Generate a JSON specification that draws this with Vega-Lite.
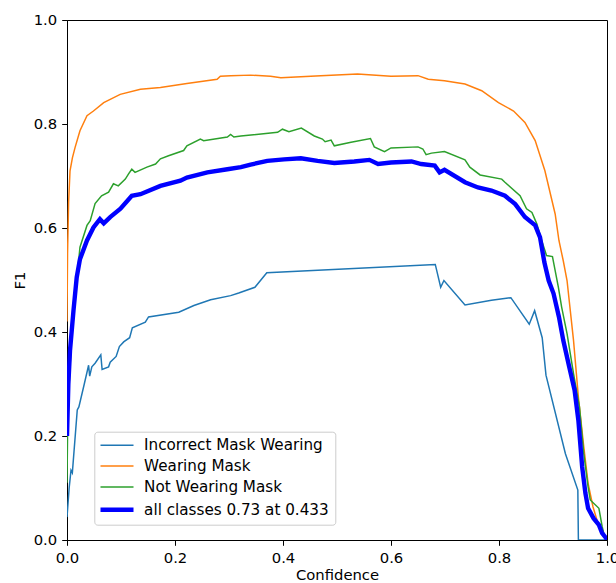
{
  "$schema": "https://vega.github.io/schema/vega-lite/v6.json",
  "width": 540,
  "height": 520,
  "autosize": {"type": "none"},
  "padding": {"left": 67, "top": 20, "right": 9, "bottom": 43},
  "background": "white",
  "config": {
    "font": "DejaVu Sans",
    "view": {"stroke": "black", "strokeWidth": 1},
    "axis": {"grid": false, "domainColor": "black", "tickColor": "black", "labelColor": "black", "titleColor": "black", "labelFontSize": 14.8, "titleFontSize": 14.8, "titleFontWeight": "normal", "tickSize": 5.3, "labelPadding": 5}
  },
  "datasets": {
    "pts": [
      {"s":"Incorrect Mask Wearing","c":0,"f":0.044},{"s":"Incorrect Mask Wearing","c":0.004,"f":0.10},{"s":"Incorrect Mask Wearing","c":0.0074,"f":0.134},{"s":"Incorrect Mask Wearing","c":0.0099,"f":0.129},{"s":"Incorrect Mask Wearing","c":0.019,"f":0.25},{"s":"Incorrect Mask Wearing","c":0.022,"f":0.256},{"s":"Incorrect Mask Wearing","c":0.032,"f":0.30},{"s":"Incorrect Mask Wearing","c":0.040,"f":0.336},{"s":"Incorrect Mask Wearing","c":0.042,"f":0.315},{"s":"Incorrect Mask Wearing","c":0.046,"f":0.333},{"s":"Incorrect Mask Wearing","c":0.052,"f":0.340},{"s":"Incorrect Mask Wearing","c":0.0626,"f":0.356},{"s":"Incorrect Mask Wearing","c":0.065,"f":0.328},{"s":"Incorrect Mask Wearing","c":0.077,"f":0.333},{"s":"Incorrect Mask Wearing","c":0.080,"f":0.342},{"s":"Incorrect Mask Wearing","c":0.091,"f":0.353},{"s":"Incorrect Mask Wearing","c":0.097,"f":0.372},{"s":"Incorrect Mask Wearing","c":0.105,"f":0.381},{"s":"Incorrect Mask Wearing","c":0.116,"f":0.389},{"s":"Incorrect Mask Wearing","c":0.121,"f":0.408},{"s":"Incorrect Mask Wearing","c":0.145,"f":0.419},{"s":"Incorrect Mask Wearing","c":0.151,"f":0.429},{"s":"Incorrect Mask Wearing","c":0.207,"f":0.438},{"s":"Incorrect Mask Wearing","c":0.235,"f":0.451},{"s":"Incorrect Mask Wearing","c":0.266,"f":0.462},{"s":"Incorrect Mask Wearing","c":0.303,"f":0.470},{"s":"Incorrect Mask Wearing","c":0.318,"f":0.475},{"s":"Incorrect Mask Wearing","c":0.348,"f":0.486},{"s":"Incorrect Mask Wearing","c":0.370,"f":0.514},{"s":"Incorrect Mask Wearing","c":0.682,"f":0.530},{"s":"Incorrect Mask Wearing","c":0.692,"f":0.486},{"s":"Incorrect Mask Wearing","c":0.698,"f":0.499},{"s":"Incorrect Mask Wearing","c":0.737,"f":0.452},{"s":"Incorrect Mask Wearing","c":0.786,"f":0.461},{"s":"Incorrect Mask Wearing","c":0.822,"f":0.466},{"s":"Incorrect Mask Wearing","c":0.856,"f":0.415},{"s":"Incorrect Mask Wearing","c":0.866,"f":0.441},{"s":"Incorrect Mask Wearing","c":0.880,"f":0.389},{"s":"Incorrect Mask Wearing","c":0.887,"f":0.317},{"s":"Incorrect Mask Wearing","c":0.923,"f":0.166},{"s":"Incorrect Mask Wearing","c":0.946,"f":0.096},{"s":"Incorrect Mask Wearing","c":0.947,"f":0.0},{"s":"Incorrect Mask Wearing","c":1.0,"f":0.0},

      {"s":"Wearing Mask","c":0,"f":0.42},{"s":"Wearing Mask","c":0.001,"f":0.55},{"s":"Wearing Mask","c":0.003,"f":0.65},{"s":"Wearing Mask","c":0.0056,"f":0.71},{"s":"Wearing Mask","c":0.010,"f":0.735},{"s":"Wearing Mask","c":0.015,"f":0.755},{"s":"Wearing Mask","c":0.024,"f":0.787},{"s":"Wearing Mask","c":0.037,"f":0.816},{"s":"Wearing Mask","c":0.049,"f":0.825},{"s":"Wearing Mask","c":0.068,"f":0.841},{"s":"Wearing Mask","c":0.0985,"f":0.857},{"s":"Wearing Mask","c":0.136,"f":0.867},{"s":"Wearing Mask","c":0.173,"f":0.870},{"s":"Wearing Mask","c":0.222,"f":0.878},{"s":"Wearing Mask","c":0.278,"f":0.886},{"s":"Wearing Mask","c":0.284,"f":0.892},{"s":"Wearing Mask","c":0.303,"f":0.893},{"s":"Wearing Mask","c":0.340,"f":0.894},{"s":"Wearing Mask","c":0.377,"f":0.892},{"s":"Wearing Mask","c":0.396,"f":0.889},{"s":"Wearing Mask","c":0.433,"f":0.891},{"s":"Wearing Mask","c":0.470,"f":0.893},{"s":"Wearing Mask","c":0.538,"f":0.896},{"s":"Wearing Mask","c":0.600,"f":0.892},{"s":"Wearing Mask","c":0.650,"f":0.893},{"s":"Wearing Mask","c":0.669,"f":0.886},{"s":"Wearing Mask","c":0.699,"f":0.883},{"s":"Wearing Mask","c":0.737,"f":0.877},{"s":"Wearing Mask","c":0.768,"f":0.864},{"s":"Wearing Mask","c":0.799,"f":0.841},{"s":"Wearing Mask","c":0.827,"f":0.825},{"s":"Wearing Mask","c":0.848,"f":0.803},{"s":"Wearing Mask","c":0.867,"f":0.768},{"s":"Wearing Mask","c":0.885,"f":0.710},{"s":"Wearing Mask","c":0.904,"f":0.627},{"s":"Wearing Mask","c":0.911,"f":0.576},{"s":"Wearing Mask","c":0.919,"f":0.537},{"s":"Wearing Mask","c":0.926,"f":0.499},{"s":"Wearing Mask","c":0.938,"f":0.384},{"s":"Wearing Mask","c":0.947,"f":0.275},{"s":"Wearing Mask","c":0.957,"f":0.179},{"s":"Wearing Mask","c":0.965,"f":0.109},{"s":"Wearing Mask","c":0.974,"f":0.064},{"s":"Wearing Mask","c":0.985,"f":0.026},{"s":"Wearing Mask","c":0.997,"f":0.004},{"s":"Wearing Mask","c":1.0,"f":0.0},

      {"s":"Not Wearing Mask","c":0,"f":0.11},{"s":"Not Wearing Mask","c":0.001,"f":0.2},{"s":"Not Wearing Mask","c":0.004,"f":0.3},{"s":"Not Wearing Mask","c":0.010,"f":0.42},{"s":"Not Wearing Mask","c":0.016,"f":0.49},{"s":"Not Wearing Mask","c":0.021,"f":0.531},{"s":"Not Wearing Mask","c":0.024,"f":0.563},{"s":"Not Wearing Mask","c":0.037,"f":0.605},{"s":"Not Wearing Mask","c":0.043,"f":0.614},{"s":"Not Wearing Mask","c":0.052,"f":0.647},{"s":"Not Wearing Mask","c":0.064,"f":0.662},{"s":"Not Wearing Mask","c":0.077,"f":0.669},{"s":"Not Wearing Mask","c":0.086,"f":0.685},{"s":"Not Wearing Mask","c":0.095,"f":0.681},{"s":"Not Wearing Mask","c":0.108,"f":0.694},{"s":"Not Wearing Mask","c":0.114,"f":0.704},{"s":"Not Wearing Mask","c":0.120,"f":0.713},{"s":"Not Wearing Mask","c":0.126,"f":0.707},{"s":"Not Wearing Mask","c":0.148,"f":0.717},{"s":"Not Wearing Mask","c":0.164,"f":0.723},{"s":"Not Wearing Mask","c":0.173,"f":0.733},{"s":"Not Wearing Mask","c":0.188,"f":0.739},{"s":"Not Wearing Mask","c":0.216,"f":0.749},{"s":"Not Wearing Mask","c":0.222,"f":0.758},{"s":"Not Wearing Mask","c":0.247,"f":0.771},{"s":"Not Wearing Mask","c":0.253,"f":0.768},{"s":"Not Wearing Mask","c":0.297,"f":0.775},{"s":"Not Wearing Mask","c":0.303,"f":0.780},{"s":"Not Wearing Mask","c":0.309,"f":0.775},{"s":"Not Wearing Mask","c":0.322,"f":0.777},{"s":"Not Wearing Mask","c":0.390,"f":0.784},{"s":"Not Wearing Mask","c":0.399,"f":0.790},{"s":"Not Wearing Mask","c":0.411,"f":0.785},{"s":"Not Wearing Mask","c":0.434,"f":0.792},{"s":"Not Wearing Mask","c":0.458,"f":0.777},{"s":"Not Wearing Mask","c":0.473,"f":0.771},{"s":"Not Wearing Mask","c":0.478,"f":0.766},{"s":"Not Wearing Mask","c":0.489,"f":0.769},{"s":"Not Wearing Mask","c":0.495,"f":0.758},{"s":"Not Wearing Mask","c":0.526,"f":0.765},{"s":"Not Wearing Mask","c":0.562,"f":0.772},{"s":"Not Wearing Mask","c":0.569,"f":0.756},{"s":"Not Wearing Mask","c":0.588,"f":0.747},{"s":"Not Wearing Mask","c":0.600,"f":0.754},{"s":"Not Wearing Mask","c":0.650,"f":0.756},{"s":"Not Wearing Mask","c":0.659,"f":0.752},{"s":"Not Wearing Mask","c":0.665,"f":0.741},{"s":"Not Wearing Mask","c":0.675,"f":0.744},{"s":"Not Wearing Mask","c":0.699,"f":0.747},{"s":"Not Wearing Mask","c":0.737,"f":0.731},{"s":"Not Wearing Mask","c":0.746,"f":0.717},{"s":"Not Wearing Mask","c":0.765,"f":0.702},{"s":"Not Wearing Mask","c":0.805,"f":0.694},{"s":"Not Wearing Mask","c":0.811,"f":0.688},{"s":"Not Wearing Mask","c":0.839,"f":0.662},{"s":"Not Wearing Mask","c":0.851,"f":0.637},{"s":"Not Wearing Mask","c":0.861,"f":0.630},{"s":"Not Wearing Mask","c":0.870,"f":0.608},{"s":"Not Wearing Mask","c":0.879,"f":0.576},{"s":"Not Wearing Mask","c":0.888,"f":0.547},{"s":"Not Wearing Mask","c":0.899,"f":0.545},{"s":"Not Wearing Mask","c":0.910,"f":0.486},{"s":"Not Wearing Mask","c":0.916,"f":0.448},{"s":"Not Wearing Mask","c":0.926,"f":0.397},{"s":"Not Wearing Mask","c":0.938,"f":0.320},{"s":"Not Wearing Mask","c":0.949,"f":0.256},{"s":"Not Wearing Mask","c":0.957,"f":0.166},{"s":"Not Wearing Mask","c":0.965,"f":0.102},{"s":"Not Wearing Mask","c":0.969,"f":0.077},{"s":"Not Wearing Mask","c":0.985,"f":0.061},{"s":"Not Wearing Mask","c":0.991,"f":0.026},{"s":"Not Wearing Mask","c":0.996,"f":0.004},{"s":"Not Wearing Mask","c":1.0,"f":0.0},

      {"s":"all classes 0.73 at 0.433","c":0,"f":0.20},{"s":"all classes 0.73 at 0.433","c":0.0025,"f":0.30},{"s":"all classes 0.73 at 0.433","c":0.0056,"f":0.365},{"s":"all classes 0.73 at 0.433","c":0.012,"f":0.441},{"s":"all classes 0.73 at 0.433","c":0.018,"f":0.505},{"s":"all classes 0.73 at 0.433","c":0.024,"f":0.540},{"s":"all classes 0.73 at 0.433","c":0.037,"f":0.576},{"s":"all classes 0.73 at 0.433","c":0.049,"f":0.601},{"s":"all classes 0.73 at 0.433","c":0.061,"f":0.617},{"s":"all classes 0.73 at 0.433","c":0.068,"f":0.609},{"s":"all classes 0.73 at 0.433","c":0.080,"f":0.621},{"s":"all classes 0.73 at 0.433","c":0.099,"f":0.637},{"s":"all classes 0.73 at 0.433","c":0.120,"f":0.662},{"s":"all classes 0.73 at 0.433","c":0.136,"f":0.665},{"s":"all classes 0.73 at 0.433","c":0.173,"f":0.681},{"s":"all classes 0.73 at 0.433","c":0.210,"f":0.691},{"s":"all classes 0.73 at 0.433","c":0.222,"f":0.697},{"s":"all classes 0.73 at 0.433","c":0.260,"f":0.707},{"s":"all classes 0.73 at 0.433","c":0.297,"f":0.713},{"s":"all classes 0.73 at 0.433","c":0.322,"f":0.717},{"s":"all classes 0.73 at 0.433","c":0.340,"f":0.722},{"s":"all classes 0.73 at 0.433","c":0.371,"f":0.729},{"s":"all classes 0.73 at 0.433","c":0.402,"f":0.732},{"s":"all classes 0.73 at 0.433","c":0.433,"f":0.734},{"s":"all classes 0.73 at 0.433","c":0.464,"f":0.729},{"s":"all classes 0.73 at 0.433","c":0.495,"f":0.725},{"s":"all classes 0.73 at 0.433","c":0.532,"f":0.728},{"s":"all classes 0.73 at 0.433","c":0.560,"f":0.731},{"s":"all classes 0.73 at 0.433","c":0.576,"f":0.723},{"s":"all classes 0.73 at 0.433","c":0.600,"f":0.726},{"s":"all classes 0.73 at 0.433","c":0.638,"f":0.728},{"s":"all classes 0.73 at 0.433","c":0.656,"f":0.723},{"s":"all classes 0.73 at 0.433","c":0.681,"f":0.720},{"s":"all classes 0.73 at 0.433","c":0.690,"f":0.707},{"s":"all classes 0.73 at 0.433","c":0.699,"f":0.712},{"s":"all classes 0.73 at 0.433","c":0.737,"f":0.688},{"s":"all classes 0.73 at 0.433","c":0.761,"f":0.678},{"s":"all classes 0.73 at 0.433","c":0.786,"f":0.672},{"s":"all classes 0.73 at 0.433","c":0.811,"f":0.662},{"s":"all classes 0.73 at 0.433","c":0.830,"f":0.646},{"s":"all classes 0.73 at 0.433","c":0.848,"f":0.621},{"s":"all classes 0.73 at 0.433","c":0.867,"f":0.605},{"s":"all classes 0.73 at 0.433","c":0.876,"f":0.582},{"s":"all classes 0.73 at 0.433","c":0.884,"f":0.534},{"s":"all classes 0.73 at 0.433","c":0.892,"f":0.499},{"s":"all classes 0.73 at 0.433","c":0.901,"f":0.474},{"s":"all classes 0.73 at 0.433","c":0.911,"f":0.429},{"s":"all classes 0.73 at 0.433","c":0.919,"f":0.384},{"s":"all classes 0.73 at 0.433","c":0.930,"f":0.333},{"s":"all classes 0.73 at 0.433","c":0.940,"f":0.288},{"s":"all classes 0.73 at 0.433","c":0.947,"f":0.230},{"s":"all classes 0.73 at 0.433","c":0.954,"f":0.141},{"s":"all classes 0.73 at 0.433","c":0.960,"f":0.090},{"s":"all classes 0.73 at 0.433","c":0.965,"f":0.061},{"s":"all classes 0.73 at 0.433","c":0.975,"f":0.042},{"s":"all classes 0.73 at 0.433","c":0.985,"f":0.029},{"s":"all classes 0.73 at 0.433","c":0.991,"f":0.013},{"s":"all classes 0.73 at 0.433","c":0.998,"f":0.004},{"s":"all classes 0.73 at 0.433","c":1.0,"f":0.0}
    ]
  },
  "data": {"name": "pts"},
  "mark": {"type": "line", "clip": true},
  "encoding": {
    "x": {"field": "c", "type": "quantitative", "title": "Confidence",
          "scale": {"domain": [0, 1], "nice": false, "zero": false},
          "axis": {"values": [0, 0.2, 0.4, 0.6, 0.8, 1.0], "format": ".1f", "titlePadding": 2, "labelFlush": false}},
    "y": {"field": "f", "type": "quantitative", "title": "F1",
          "scale": {"domain": [0, 1], "nice": false, "zero": false},
          "axis": {"values": [0, 0.2, 0.4, 0.6, 0.8, 1.0], "format": ".1f", "titlePadding": 6, "labelFlush": false}},
    "color": {"field": "s", "type": "nominal",
              "scale": {"domain": ["Incorrect Mask Wearing", "Wearing Mask", "Not Wearing Mask", "all classes 0.73 at 0.433"],
                        "range": ["#1f77b4", "#ff7f0e", "#2ca02c", "#0000ff"]},
              "legend": {"title": null, "orient": "none", "legendX": 27.3, "legendY": 411.7,
                         "symbolType": "M-3.667,0H3.667", "symbolSize": 81, "symbolOffset": 9.1, "labelFontSize": 15.2, "labelOffset": 19.5, "labelLimit": 400,
                         "padding": 6, "rowPadding": 4.8, "fillColor": "white", "strokeColor": "#cccccc", "cornerRadius": 3, "labelColor": "black"}},
    "strokeWidth": {"field": "s", "type": "nominal",
              "scale": {"type": "ordinal", "domain": ["Incorrect Mask Wearing", "Wearing Mask", "Not Wearing Mask", "all classes 0.73 at 0.433"],
                        "range": [1.48, 1.48, 1.48, 4.4]},
              "legend": {"title": null, "orient": "none", "legendX": 27.3, "legendY": 411.7,
                         "symbolType": "M-3.667,0H3.667", "symbolSize": 81, "symbolOffset": 9.1, "labelFontSize": 15.2, "labelOffset": 19.5, "labelLimit": 400,
                         "padding": 6, "rowPadding": 4.8, "fillColor": "white", "strokeColor": "#cccccc", "cornerRadius": 3, "labelColor": "black"}}
  }
}
